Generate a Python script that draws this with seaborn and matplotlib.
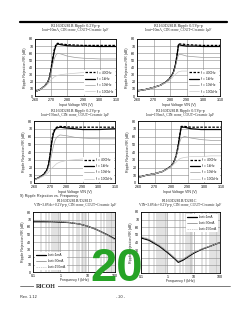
import matplotlib
matplotlib.use("Agg")
import matplotlib.pyplot as plt
from matplotlib.lines import Line2D
import seaborn as sns
import pandas as pd

sns.set_theme(style="white")
plt.rcParams['font.family'] = ['Liberation Sans', 'DejaVu Sans']

# ---------------- data ----------------
vin_labels = ["f = 400Hz", "f = 1kHz", "f = 10kHz", "f = 100kHz"]
vin_ticks = [2.60, 2.70, 2.80, 2.90, 3.00, 3.10]
rr_ticks = [0, 10, 20, 30, 40, 50, 60, 70, 80]

vin_a = [2.60, 2.63, 2.66, 2.68, 2.69, 2.70, 2.71, 2.72, 2.73, 2.74, 2.76, 2.80, 2.85, 2.90, 3.00, 3.10]
tl_400 = [6, 9, 14, 20, 27, 40, 54, 66, 73, 74, 73, 72, 71.5, 71, 71, 71]
tl_1k = [6, 9, 14, 20, 26, 38, 52, 64, 71, 73, 72, 70.5, 70, 70, 69.5, 69.5]
tl_10k = [6, 9, 14, 20, 25, 35, 45, 53, 58, 60, 59, 56, 54, 53, 52, 52]
tl_100k = [6, 9, 13, 17, 20, 23, 25, 27, 28, 29, 30, 31, 32, 33, 34, 34]

vin_b = [2.60, 2.65, 2.70, 2.74, 2.77, 2.79, 2.81, 2.82, 2.83, 2.84, 2.85, 2.87, 2.90, 2.95, 3.00, 3.05, 3.10]
tr_400 = [7, 9, 12, 15, 19, 23, 29, 34, 42, 56, 73, 73, 72, 71.5, 71, 71, 71]
tr_1k = [7, 9, 12, 15, 19, 23, 29, 34, 42, 55, 72, 71, 70, 70, 69.5, 69.5, 69.5]
tr_10k = [7, 9, 12, 15, 19, 23, 28, 33, 40, 50, 58, 58, 56, 55, 54, 54, 54]
tr_100k = [7, 9, 12, 15, 18, 21, 25, 28, 30, 32, 34, 35, 35, 35, 35, 35, 35]

ml_400 = [4, 7, 11, 17, 24, 38, 55, 66, 70, 72, 73, 72.5, 72, 72, 72, 72]
ml_1k = [4, 7, 11, 17, 24, 37, 53, 64, 69, 71, 72, 71, 70, 69, 69, 70]
ml_10k = [4, 7, 10, 15, 20, 28, 38, 48, 55, 59, 62, 61, 59, 58, 57, 57]
ml_100k = [4, 6, 9, 12, 14, 17, 19, 21, 23, 25, 27, 29, 30, 31, 32, 32]

vin_d = [2.60, 2.65, 2.70, 2.75, 2.78, 2.80, 2.81, 2.82, 2.83, 2.84, 2.85, 2.86, 2.88, 2.92, 2.98, 3.04, 3.10]
mr_400 = [7, 10, 12, 15, 19, 22, 25, 29, 36, 46, 60, 73, 73, 72, 72, 72, 72]
mr_1k = [7, 10, 12, 15, 19, 22, 25, 29, 35, 45, 59, 72, 72, 70, 69, 69, 69]
mr_10k = [7, 10, 12, 15, 19, 22, 25, 28, 34, 42, 52, 58, 60, 58, 56, 55, 55]
mr_100k = [7, 10, 12, 15, 18, 21, 23, 25, 27, 29, 31, 32, 33, 34, 34, 35, 35]

iout_labels = ["Iout=1mA", "Iout=30mA", "Iout=150mA"]
freq_ticks = [0.1, 1, 10, 100]
freq_tick_labels = ["0.1", "1", "10", "100"]

freq_l = [0.1, 0.2, 0.5, 1, 2, 5, 10, 20, 50, 100]
bl_1 = [67, 67, 67, 66.5, 66, 64, 61, 57, 50, 44]
bl_30 = [68, 68, 67.5, 67, 66, 64, 61, 57, 50, 43]
bl_150 = [69, 69, 68, 67.5, 66.5, 64, 61, 57, 49, 43]

freq_r = [0.1, 0.2, 0.5, 1, 2, 2.6, 4, 6, 10, 20, 50, 100]
br_1 = [46, 43, 35, 27, 18, 14, 17, 21, 26, 31, 36, 40]
br_30 = [47, 44, 36, 28, 19, 15, 18, 22, 27, 31, 36, 40]
br_150 = [48, 45, 37, 29, 20, 16, 19, 22, 27, 32, 36, 40]

# ---------------- layout helpers ----------------
W, H = 240, 310
fig = plt.figure(figsize=(2.4, 3.1), dpi=100)

def box(l, t, r, b):
    return [l / W, 1 - b / H, (r - l) / W, (b - t) / H]

def px(x, y):
    return x / W, 1 - y / H

SERIF = ['Liberation Serif', 'DejaVu Serif']
GRID = '#8a8a8a'

def style_axes(ax):
    for s in ax.spines.values():
        s.set_color('black')
        s.set_linewidth(0.6)
    ax.tick_params(axis='both', which='both', length=0, pad=1.2, labelsize=2.6, colors='black')
    ax.grid(True, which='major', color=GRID, lw=0.4)

def titles(cx, y1, t1, t2):
    fig.text(*px(cx, y1), t1, ha='center', va='center', fontsize=3.0, family=SERIF)
    fig.text(*px(cx, y1 + 4), t2, ha='center', va='center', fontsize=2.6, family=SERIF)

vin_styles = [dict(color='black', linewidth=0.9, linestyle=(0, (2.0, 1.2))),
              dict(color='black', linewidth=0.9, linestyle='-'),
              dict(color='#9c9c9c', linewidth=0.5, linestyle='-'),
              dict(color='#c9c9c9', linewidth=0.5, linestyle='-')]

def vin_chart(rect, x, series):
    ax = fig.add_axes(box(*rect))
    for y, lab, st in zip(series, vin_labels, vin_styles):
        df = pd.DataFrame({"vin": x, "rr": y})
        sns.lineplot(data=df, x="vin", y="rr", ax=ax, label=lab, **st)
    ax.set_xlim(2.60, 3.10)
    ax.set_ylim(0, 80)
    ax.set_xticks(vin_ticks)
    ax.set_xticklabels([f"{v:.2f}" for v in vin_ticks])
    ax.set_yticks(rr_ticks)
    style_axes(ax)
    ax.set_xlabel("Input Voltage VIN (V)", fontsize=2.6, labelpad=0.8)
    ax.set_ylabel("Ripple Rejection RR (dB)", fontsize=2.6, labelpad=1.5)
    leg = ax.legend(loc='lower right', fontsize=2.4, frameon=True, facecolor='white',
                    edgecolor='none', framealpha=1, handlelength=3.0, borderpad=0.3,
                    labelspacing=0.7, handletextpad=0.6, borderaxespad=0.4)
    return ax

iout_styles = [dict(color='black', linewidth=0.9, linestyle='-'),
               dict(color='#7a7a7a', linewidth=0.5, linestyle='-'),
               dict(color='#bdbdbd', linewidth=0.5, linestyle=(0, (2.0, 1.2)))]

def freq_chart(rect, x, series, loc):
    ax = fig.add_axes(box(*rect))
    for y, lab, st in zip(series, iout_labels, iout_styles):
        df = pd.DataFrame({"f": x, "rr": y})
        sns.lineplot(data=df, x="f", y="rr", ax=ax, label=lab, **st)
    ax.set_xscale('log')
    ax.set_xlim(0.1, 100)
    ax.set_ylim(0, 80)
    ax.set_xticks(freq_ticks)
    ax.set_xticklabels(freq_tick_labels)
    ax.set_yticks(rr_ticks)
    style_axes(ax)
    ax.grid(True, which='minor', axis='x', color=GRID, lw=0.35)
    ax.set_xlabel("Frequency f (kHz)", fontsize=2.6, labelpad=0.5)
    ax.set_ylabel("Ripple Rejection RR (dB)", fontsize=2.6, labelpad=1.5)
    ax.legend(loc=loc, fontsize=2.4, frameon=True, facecolor='white', edgecolor='none',
              framealpha=1, handlelength=3.0, borderpad=0.3, labelspacing=0.6,
              handletextpad=0.6, borderaxespad=0.6)
    return ax

# ---------------- header ----------------
fig.add_artist(Line2D([20 / W, 227 / W], [1 - 22 / H] * 2, color='black', lw=1.6))

# ---------------- charts ----------------
titles(75, 25.5, "R1160D281B Ripple 0.2Vp-p", "Iout=10mA, CIN: none, COUT=Ceramic 1\u00b5F")
vin_chart((35, 39, 116, 96), vin_a, [tl_400, tl_1k, tl_10k, tl_100k])

titles(178, 25.5, "R1160D281B Ripple 0.5Vp-p", "Iout=10mA, CIN: none, COUT=Ceramic 1\u00b5F")
vin_chart((137, 39, 220, 96), vin_b, [tr_400, tr_1k, tr_10k, tr_100k])

titles(75, 111, "R1160D281B Ripple 0.2Vp-p", "Iout=150mA, CIN: none, COUT=Ceramic 1\u00b5F")
vin_chart((34, 121, 115, 183), vin_a, [ml_400, ml_1k, ml_10k, ml_100k])

titles(180, 111, "R1160D281B Ripple 0.5Vp-p", "Iout=150mA, CIN: none, COUT=Ceramic 1\u00b5F")
vin_chart((138, 121, 221, 183), vin_d, [mr_400, mr_1k, mr_10k, mr_100k])

fig.text(*px(20, 196), "9) Ripple Rejection vs. Frequency", ha='left', va='center', fontsize=2.8)

titles(75, 201, "R1160D281B/D281D", "VIN=3.8Vdc+0.2Vp-p, CIN: none, COUT=Ceramic 1\u00b5F")
freq_chart((33, 212, 115, 272), freq_l, [bl_1, bl_30, bl_150], 'lower left')

titles(180, 201, "R1160D281B/D281C", "VIN=3.8Vdc+0.2Vp-p, CIN: none, COUT=Ceramic 1\u00b5F")
freq_chart((141, 212, 220, 273), freq_r, [br_1, br_30, br_150], 'upper right')

# ---------------- footer ----------------
fig.add_artist(Line2D([20 / W, 230 / W], [1 - 286 / H] * 2, color='#444444', lw=0.5))
fig.text(*px(46, 286.5), "RICOH", ha='center', va='center', fontsize=4.2, fontweight='bold',
         family=SERIF, bbox=dict(facecolor='white', edgecolor='none', pad=1.2))
fig.text(*px(20, 297), "Rev. 1.12", ha='left', va='center', fontsize=2.8)
fig.text(*px(120, 297), "- 20 -", ha='center', va='center', fontsize=2.8)

# green page number overlay
fig.text(*px(117, 281), "20", ha='center', va='baseline', fontsize=34, fontweight='bold',
         color='#26a326', family=['Liberation Sans Narrow', 'Liberation Sans', 'DejaVu Sans'])

fig.savefig("out.png", dpi=100, facecolor='white')
